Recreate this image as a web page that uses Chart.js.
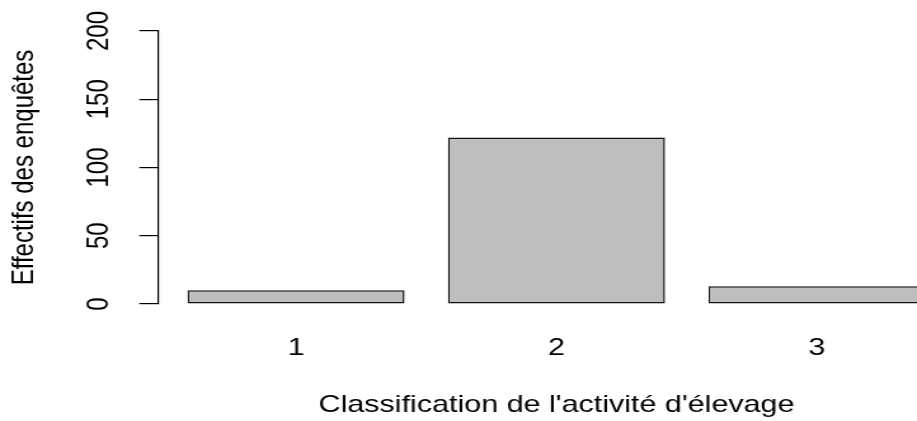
<!DOCTYPE html>
<html lang="fr">
<head>
<meta charset="utf-8">
<title>Classification de l'activité d'élevage</title>
<script src="https://cdn.jsdelivr.net/npm/chart.js@4.4.1/dist/chart.umd.min.js"></script>
<style>
  html, body { margin: 0; padding: 0; background: #fff; overflow: hidden; }
  /* the reference is an R barplot stretched sideways, so the canvas is stretched the same way */
  #wrap { width: 788px; height: 421px; transform: scaleX(1.27); transform-origin: 0 0; }
  #chart { display: block; }
</style>
</head>
<body>
<div id="wrap"><canvas id="chart" width="788" height="421"></canvas></div>

<script>
/* ---- Data ---- */
const categories = ["1", "2", "3"];
const counts = [10, 122, 13];
const yTicks = [0, 50, 100, 150, 200];

const xTitle = "Classification de l'activité d'élevage";
const yTitle = "Effectifs des enquêtes";

/* ---- R barplot geometry (width 1, space 0.2) ---- */
const barWidth = 1;
const barSpace = 0.2;
const centers = categories.map((c, i) => barSpace * (i + 1) + barWidth * i + barWidth / 2);
const xLo = barSpace;
const xHi = categories.length * (barWidth + barSpace);
const xExt = 0.04 * (xHi - xLo);

const font = { family: "'Liberation Sans', Arial, sans-serif", size: 24 };

new Chart(document.getElementById("chart"), {
  type: "bar",
  data: {
    datasets: [{
      data: counts.map((v, i) => ({ x: centers[i], y: v })),
      backgroundColor: "#BEBEBE",
      borderColor: "#111",
      borderWidth: 1.5,
      borderSkipped: false,
      categoryPercentage: 1,
      barPercentage: barWidth / (barWidth + barSpace)
    }]
  },
  options: {
    responsive: false,
    animation: false,
    devicePixelRatio: 1,
    layout: { padding: { left: 4.6, right: 36, top: 31, bottom: 0 } },
    plugins: { legend: { display: false }, tooltip: { enabled: false } },
    scales: {
      x: {
        type: "linear",
        offset: false,
        min: xLo - xExt,
        max: xHi + xExt,
        afterBuildTicks: s => { s.ticks = centers.map(v => ({ value: v })); },
        afterFit: s => { s.height = 117; },
        grid: { display: false, drawTicks: false, offset: false },
        border: { display: false },
        ticks: {
          autoSkip: false,
          maxRotation: 0,
          padding: 30,
          color: "#000",
          font: font,
          callback: (v, i) => categories[i]
        },
        title: {
          display: true,
          text: xTitle,
          color: "#000",
          font: font,
          padding: { top: 0, bottom: 1 }
        }
      },
      y: {
        min: 0,
        max: 200,
        afterBuildTicks: s => { s.ticks = yTicks.map(v => ({ value: v })); },
        afterFit: s => { s.width = 119.8; },
        grid: {
          display: true,
          drawOnChartArea: false,
          drawTicks: true,
          tickLength: 14.7,
          color: "#000",
          lineWidth: 1.2
        },
        border: { display: true, color: "#000", width: 1.2 },
        ticks: {
          autoSkip: false,
          minRotation: 90,
          maxRotation: 90,
          crossAlign: "center",
          padding: 11,
          color: "#000",
          font: font
        },
        title: {
          display: true,
          text: yTitle,
          color: "#000",
          font: font,
          padding: 0
        }
      }
    }
  }
});
</script>
</body>
</html>
